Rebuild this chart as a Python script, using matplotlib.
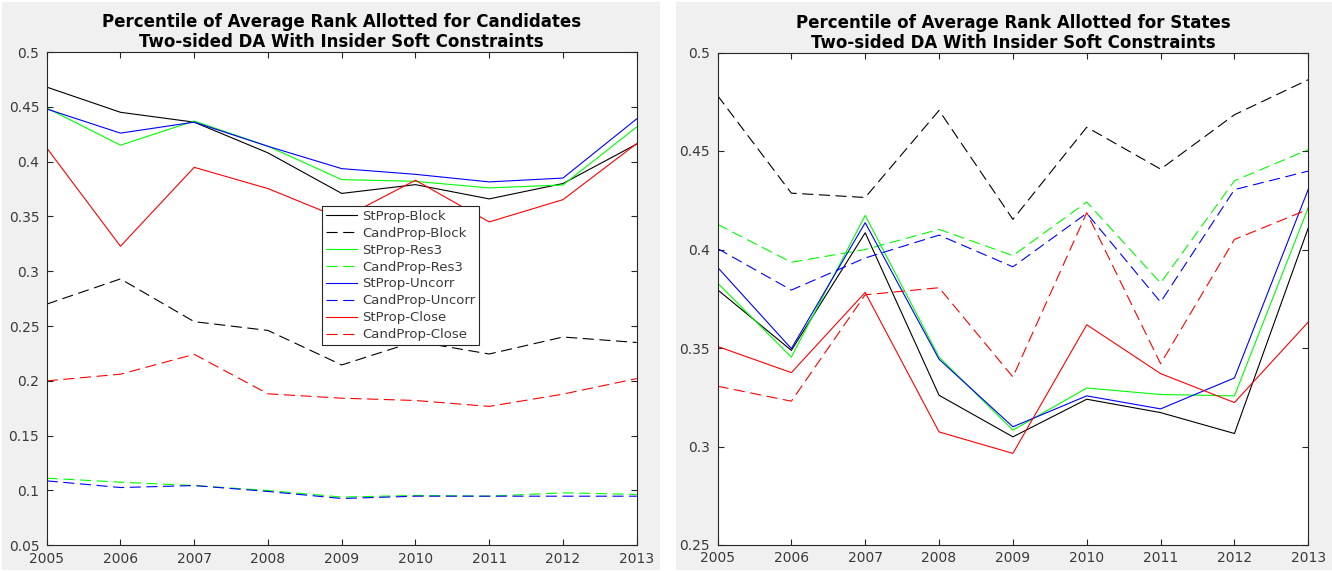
import matplotlib
matplotlib.use("Agg")
import matplotlib.pyplot as plt
from matplotlib.patches import Rectangle

years = [2005, 2006, 2007, 2008, 2009, 2010, 2011, 2012, 2013]

series_labels = ["StProp-Block", "CandProp-Block", "StProp-Res3", "CandProp-Res3",
                 "StProp-Uncorr", "CandProp-Uncorr", "StProp-Close", "CandProp-Close"]

# Candidates panel
cand_st_block = [0.468, 0.445, 0.436, 0.408, 0.371, 0.379, 0.366, 0.380, 0.416]
cand_cp_block = [0.270, 0.293, 0.254, 0.246, 0.2145, 0.236, 0.2245, 0.240, 0.235]
cand_st_res3 = [0.449, 0.415, 0.437, 0.414, 0.3836, 0.382, 0.376, 0.3787, 0.4316]
cand_cp_res3 = [0.1112, 0.1076, 0.1045, 0.100, 0.094, 0.0955, 0.0948, 0.0979, 0.0964]
cand_st_uncorr = [0.448, 0.426, 0.436, 0.414, 0.3936, 0.3884, 0.3815, 0.385, 0.439]
cand_cp_uncorr = [0.1088, 0.1027, 0.1045, 0.0991, 0.0927, 0.0948, 0.0948, 0.0948, 0.0948]
cand_st_close = [0.4125, 0.3228, 0.3948, 0.3754, 0.348, 0.383, 0.345, 0.3653, 0.4164]
cand_cp_close = [0.200, 0.2061, 0.2242, 0.1882, 0.1842, 0.1821, 0.1767, 0.1879, 0.2021]

# States panel
state_st_block = [0.3796, 0.3488, 0.4085, 0.326, 0.3049, 0.324, 0.3172, 0.3066, 0.411]
state_cp_block = [0.4782, 0.4286, 0.4264, 0.4706, 0.4153, 0.4621, 0.4408, 0.4684, 0.4862]
state_st_res3 = [0.383, 0.3454, 0.4173, 0.3454, 0.3083, 0.3297, 0.3264, 0.3257, 0.4213]
state_cp_res3 = [0.4128, 0.3935, 0.400, 0.4102, 0.3969, 0.4241, 0.383, 0.4349, 0.4507]
state_st_uncorr = [0.391, 0.3497, 0.4136, 0.3443, 0.310, 0.3257, 0.3191, 0.3348, 0.4306]
state_cp_uncorr = [0.4005, 0.3794, 0.3957, 0.4073, 0.3912, 0.4184, 0.3733, 0.4304, 0.4398]
state_st_close = [0.3508, 0.3375, 0.3782, 0.3074, 0.2965, 0.3618, 0.337, 0.3223, 0.3632]
state_cp_close = [0.3306, 0.323, 0.377, 0.3806, 0.3353, 0.4187, 0.342, 0.4051, 0.4204]

left_yticks = [0.05, 0.1, 0.15, 0.2, 0.25, 0.3, 0.35, 0.4, 0.45, 0.5]
left_yticklabels = ["0.05", "0.1", "0.15", "0.2", "0.25", "0.3", "0.35", "0.4", "0.45", "0.5"]
right_yticks = [0.25, 0.3, 0.35, 0.4, 0.45, 0.5]
right_yticklabels = ["0.25", "0.3", "0.35", "0.4", "0.45", "0.5"]

title_left = "Percentile of Average Rank Allotted for Candidates\nTwo-sided DA With Insider Soft Constraints"
title_right = "Percentile of Average Rank Allotted for States\nTwo-sided DA With Insider Soft Constraints"

colors = ["black", "black", "#00ff00", "#00ff00", "#0000ff", "#0000ff", "#ff0000", "#ff0000"]
solid = [True, False, True, False, True, False, True, False]

W, H = 1332, 571
AX_COLOR = "#262626"
LABEL_COLOR = "#3a3a3a"
PANEL = "#f0f0f0"

fig = plt.figure(figsize=(W / 100, H / 100), dpi=100)
fig.patch.set_facecolor("white")

# grey panel backgrounds
for x0, x1 in [(2, 660), (676, 1332)]:
    fig.patches.append(Rectangle((x0 / W, 1 - 570 / H), (x1 - x0) / W, 568 / H,
                                 transform=fig.transFigure, facecolor=PANEL,
                                 edgecolor="none", zorder=-10))


def make_axes(rect_px):
    x0, y0, x1, y1 = rect_px
    ax = fig.add_axes([x0 / W, 1 - y1 / H, (x1 - x0) / W, (y1 - y0) / H])
    ax.set_facecolor("white")
    for sp in ax.spines.values():
        sp.set_color(AX_COLOR)
        sp.set_linewidth(0.8)
    ax.tick_params(direction="in", length=4, width=0.8, color=AX_COLOR,
                   labelcolor=LABEL_COLOR, labelsize=10, top=True, right=True)
    ax.tick_params(axis="y", pad=5.3)
    ax.tick_params(axis="x", pad=4.5)
    return ax


def draw(ax, data, title, yticks, yticklabels, ylim):
    handles = []
    for vals, lab, c, s in zip(data, series_labels, colors, solid):
        if s:
            h, = ax.plot(years, vals, color=c, lw=0.8, label=lab)
        else:
            h, = ax.plot(years, vals, color=c, lw=0.8, label=lab, dashes=(10, 5))
        handles.append(h)
    ax.set_xlim(years[0], years[-1])
    ax.set_ylim(*ylim)
    ax.set_xticks(years)
    ax.set_xticklabels([str(y) for y in years])
    ax.set_yticks(yticks)
    ax.set_yticklabels(yticklabels)
    ax.set_title(title, fontsize=12, fontweight="bold", color="black",
                 linespacing=1.15, pad=3.5)
    return handles


ax1 = make_axes((46.7, 52.0, 636.7, 545.3))
ax2 = make_axes((717.5, 52.5, 1308.3, 545.0))

h = draw(ax1, [cand_st_block, cand_cp_block, cand_st_res3, cand_cp_res3,
               cand_st_uncorr, cand_cp_uncorr, cand_st_close, cand_cp_close],
         title_left, left_yticks, left_yticklabels, (0.05, 0.5))
draw(ax2, [state_st_block, state_cp_block, state_st_res3, state_cp_res3,
           state_st_uncorr, state_cp_uncorr, state_st_close, state_cp_close],
     title_right, right_yticks, right_yticklabels, (0.25, 0.5))

leg = ax1.legend(handles=h, loc="upper left",
                 bbox_to_anchor=(322.3 / W, 1 - 205.7 / H),
                 bbox_transform=fig.transFigure, borderaxespad=0,
                 fontsize=9.5, labelspacing=0.3, borderpad=0.3,
                 handlelength=2.3, handletextpad=0.4, fancybox=False,
                 framealpha=1, edgecolor=AX_COLOR, labelcolor=LABEL_COLOR)
leg.get_frame().set_linewidth(0.8)

fig.savefig("out.png", dpi=100)
